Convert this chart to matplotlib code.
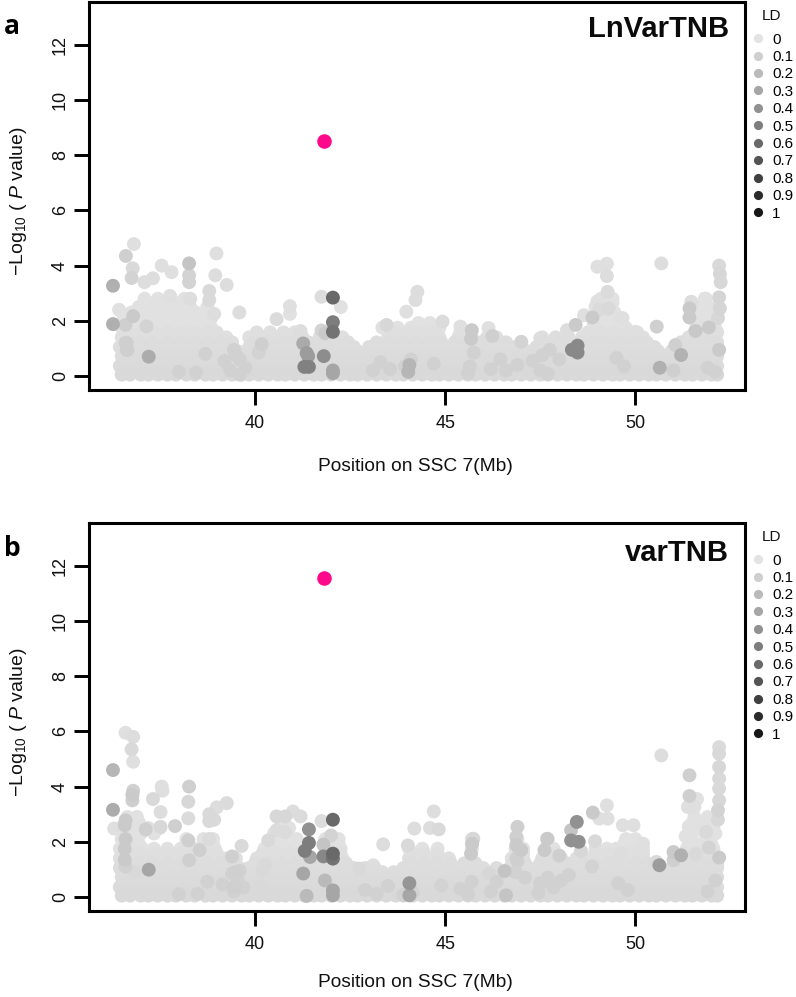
#!/usr/bin/env python3
"""Regional association plots for LnVarTNB and varTNB on SSC 7."""
import numpy as np
import matplotlib
matplotlib.use("Agg")
import matplotlib.pyplot as plt
from matplotlib.lines import Line2D

plt.rcParams["font.family"] = ["Liberation Sans", "DejaVu Sans"]
plt.rcParams["mathtext.fontset"] = "custom"
plt.rcParams["mathtext.rm"] = "Liberation Sans"
plt.rcParams["mathtext.it"] = "Liberation Sans:italic"

LD_LEVELS = [0, 0.1, 0.2, 0.3, 0.4, 0.5, 0.6, 0.7, 0.8, 0.9, 1]
LD_LABELS = ["0", "0.1", "0.2", "0.3", "0.4", "0.5", "0.6", "0.7", "0.8", "0.9", "1"]
X_TICKS = [40, 45, 50]
Y_TICKS = [0, 2, 4, 6, 8, 10, 12]

# lower rows of the cloud, the same in both panels
low_row_y = [0.05, 0.2, 0.36, 0.54, 0.72, 0.9]
low_row_ld = [0.05, 0.045, 0.04, 0.04, 0.035, 0.03]
low_row_x = [
    [36.5, 36.72, 37.0, 37.2, 37.45, 37.7, 37.92, 38.2, 38.42, 38.7, 38.9, 39.15, 39.4, 39.65, 39.85,
     40.1, 40.35, 40.6, 40.8, 41.05, 41.3, 41.55, 41.75, 42.0, 42.25, 42.5, 42.7, 42.95, 43.2, 43.45,
     43.7, 43.9, 44.15, 44.4, 44.65, 44.85, 45.1, 45.35, 45.6, 45.8, 46.05, 46.3, 46.55, 46.75, 47.0,
     47.25, 47.5, 47.7, 47.95, 48.2, 48.45, 48.65, 48.9, 49.15, 49.4, 49.6, 49.85, 50.1, 50.35, 50.55,
     50.8, 51.05, 51.3, 51.5, 51.75, 52.0, 52.15],
    [36.6, 36.9, 37.25, 37.55, 37.85, 38.1, 38.5, 38.8, 39.1, 39.45, 39.75, 40.05, 40.4, 40.7, 41.0,
     41.35, 41.65, 41.95, 42.3, 42.6, 42.9, 43.25, 43.55, 43.85, 44.2, 44.5, 44.8, 45.15, 45.45, 45.75,
     46.1, 46.4, 46.7, 47.05, 47.35, 47.65, 48.0, 48.3, 48.6, 48.95, 49.25, 49.55, 49.9, 50.2, 50.5,
     50.85, 51.15, 51.45, 51.8, 52.1],
    [36.45, 36.8, 37.1, 37.4, 37.75, 38.05, 38.35, 38.65, 39.0, 39.3, 39.6, 39.9, 40.2, 40.5, 40.85,
     41.15, 41.45, 41.8, 42.1, 42.4, 42.7, 43.05, 43.35, 43.65, 43.95, 44.3, 44.6, 44.9, 45.25, 45.55,
     45.85, 46.15, 46.5, 46.8, 47.1, 47.45, 47.75, 48.05, 48.35, 48.7, 49.0, 49.3, 49.65, 49.95, 50.25,
     50.6, 50.9, 51.2, 51.5, 51.85, 52.15],
    [36.65, 36.95, 37.3, 37.6, 37.95, 38.25, 38.55, 38.9, 39.2, 39.5, 39.85, 40.15, 40.45, 40.8, 41.1,
     41.4, 41.75, 42.05, 42.35, 42.7, 43.0, 43.3, 43.65, 43.95, 44.25, 44.6, 44.9, 45.2, 45.55, 45.85,
     46.15, 46.5, 46.8, 47.1, 47.45, 47.75, 48.05, 48.4, 48.7, 49.0, 49.35, 49.65, 49.95, 50.3, 50.6,
     50.9, 51.25, 51.55, 51.85, 52.1],
    [36.5, 36.85, 37.15, 37.5, 37.8, 38.1, 38.4, 38.75, 39.05, 39.35, 39.7, 40.0, 40.3, 40.65, 40.95,
     41.25, 41.6, 41.9, 42.2, 42.55, 42.85, 43.15, 43.5, 43.8, 44.1, 44.45, 44.75, 45.05, 45.4, 45.7,
     46.0, 46.35, 46.65, 46.95, 47.3, 47.6, 47.9, 48.25, 48.55, 48.85, 49.2, 49.5, 49.8, 50.15, 50.45,
     50.75, 51.1, 51.4, 51.7, 52.05, 52.15],
    [36.65, 37.0, 37.3, 37.65, 37.95, 38.25, 38.6, 38.9, 39.2, 39.55, 39.85, 40.15, 40.5, 40.8, 41.1,
     41.45, 41.75, 42.05, 42.4, 42.7, 43.0, 43.35, 43.65, 43.95, 44.3, 44.6, 44.9, 45.25, 45.55, 45.85,
     46.2, 46.5, 46.8, 47.15, 47.45, 47.75, 48.1, 48.4, 48.7, 49.05, 49.35, 49.65, 50.0, 50.3, 50.6,
     50.95, 51.25, 51.55, 51.9, 52.1],
]

# panel a
a_row_y = [1.05, 1.22, 1.4, 1.58, 1.75, 1.92, 2.1, 2.3, 2.5, 2.65, 2.8]
a_row_ld = [0.03, 0.03, 0.02, 0.02, 0.01, 0.01, 0.01, 0.01, 0.01, 0.01, 0.01]
a_row_x = [
    [36.45, 36.8, 37.15, 37.5, 37.85, 38.2, 38.55, 38.9, 39.25, 39.85, 40.15, 40.5, 40.85, 41.2, 41.55,
     41.9, 42.25, 42.6, 43.0, 43.35, 43.7, 44.05, 44.4, 44.75, 45.05, 45.4, 45.7, 46.1, 46.4, 46.75,
     47.0, 47.4, 47.7, 48.0, 48.3, 48.7, 49.05, 49.4, 49.75, 50.1, 50.5, 51.05, 51.35, 51.7, 52.1],
    [36.6, 36.95, 37.3, 37.7, 38.05, 38.4, 38.75, 39.1, 39.4, 40.0, 40.35, 40.7, 41.05, 41.4, 41.75,
     42.1, 42.45, 43.2, 43.55, 43.9, 44.25, 44.6, 44.9, 45.25, 45.6, 45.95, 46.25, 46.6, 47.55, 47.9,
     48.15, 48.55, 48.9, 49.25, 49.6, 49.95, 50.3, 51.2, 51.55, 51.9, 52.15],
    [36.5, 36.85, 37.2, 37.55, 37.9, 38.25, 38.6, 38.95, 39.25, 39.85, 40.2, 40.55, 40.95, 41.25, 41.7,
     42.3, 43.5, 43.85, 44.2, 44.55, 44.85, 45.35, 45.7, 46.1, 46.35, 47.55, 48.25, 48.6, 48.95, 49.3,
     49.65, 50.0, 50.2, 51.4, 51.7, 52.05],
    [36.65, 37.0, 37.35, 37.7, 38.05, 38.4, 38.75, 39.0, 40.05, 40.4, 40.75, 41.05, 43.7, 44.0, 44.35,
     44.7, 45.4, 48.75, 49.1, 49.45, 49.8, 50.05, 51.55, 51.85, 52.15],
    [36.5, 36.85, 37.2, 37.55, 37.9, 38.25, 38.6, 38.85, 43.35, 43.75, 44.1, 44.5, 44.85, 49.05, 49.4,
     49.75, 51.6, 51.85, 52.1],
    [36.7, 37.05, 37.4, 37.75, 38.1, 38.45, 38.75, 44.3, 44.6, 48.9, 49.2, 49.5, 51.7, 52.0],
    [36.55, 36.9, 37.25, 37.6, 37.95, 38.3, 38.55, 38.85, 49.0, 49.3, 49.6, 51.5, 51.85, 52.1],
    [36.75, 37.1, 37.45, 37.8, 38.15, 38.45, 38.8, 49.15, 49.45, 51.65, 51.95],
    [36.95, 37.3, 37.65, 38.0, 38.3, 38.75, 48.95, 49.3, 51.55, 51.85, 52.15],
    [37.15, 37.5, 37.85, 38.15, 49.15, 49.4, 51.85],
    [37.1, 37.45, 37.8, 38.15, 49.1, 49.4, 51.85],
]
a_mid_x = [38.0, 38.45, 38.7, 39.2, 39.45, 39.6, 39.75, 39.35, 39.6, 39.5, 36.6, 36.65, 43.3, 43.55, 43.95,
           44.1, 43.1, 44.7, 45.65, 45.75, 45.6, 46.2, 46.45, 46.6, 46.9, 47.3, 47.55, 47.75, 48.0, 47.5,
           47.7, 49.5, 49.7, 51.9, 52.1]
a_mid_y = [0.15, 0.12, 0.8, 0.55, 0.95, 0.6, 0.3, 0.2, 0.05, 0.75, 1.2, 0.95, 0.5, 0.25, 0.35, 0.6, 0.2, 0.45,
           0.35, 0.85, 0.1, 0.25, 0.6, 0.2, 0.4, 0.55, 0.75, 0.95, 0.6, 0.2, 0.08, 0.65, 0.35, 0.3, 0.15]
a_top_x = [36.82, 36.61, 36.79, 36.76, 36.27, 37.55, 37.81, 37.32, 37.1, 38.27, 38.27, 38.27, 38.99, 38.96,
           39.26, 38.8, 38.8, 38.93, 39.59, 38.3, 37.77, 36.8, 36.27, 36.6, 37.15, 37.21, 36.63, 36.63, 36.43,
           41.75, 42.05, 42.26, 42.05, 42.05, 41.75, 41.85, 41.81, 41.27, 41.36, 41.4, 41.3, 41.42, 42.05,
           42.05, 40.92, 40.92, 40.57, 40.18, 40.1, 41.2, 43.46, 44.27, 44.22, 43.98, 44.93, 45.4, 45.7,
           45.68, 46.14, 46.24, 47.0, 47.5, 47.9, 48.2, 48.43, 48.48, 48.48, 48.33, 48.65, 48.87, 49.0, 49.25,
           49.25, 49.27, 49.0, 49.3, 49.05, 49.66, 50.0, 50.2, 50.68, 50.56, 51.05, 51.2, 50.64, 51.0, 51.47,
           51.42, 51.42, 51.58, 51.82, 51.93, 52.2, 52.22, 52.24, 52.2, 52.22, 52.17, 52.2, 44.06, 44.03]
a_top_y = [4.78, 4.35, 3.9, 3.55, 3.27, 4.0, 3.76, 3.54, 3.4, 4.08, 3.65, 3.4, 4.44, 3.65, 3.3, 3.08, 2.75,
           2.25, 2.3, 2.8, 2.9, 2.17, 1.88, 1.85, 1.8, 0.7, 1.2, 0.95, 2.4, 2.87, 2.84, 2.5, 1.95, 1.6, 1.65,
           1.55, 0.72, 1.18, 0.83, 0.72, 0.33, 0.33, 0.2, 0.1, 2.53, 2.25, 2.06, 1.15, 0.85, 1.63, 1.85, 3.05,
           2.75, 2.33, 1.97, 1.79, 1.66, 1.35, 1.74, 1.45, 1.24, 1.37, 1.4, 1.66, 1.85, 1.1, 0.85, 0.95, 2.2,
           2.12, 3.96, 4.07, 3.62, 3.05, 2.7, 2.45, 2.4, 2.1, 1.6, 1.3, 4.08, 1.79, 1.12, 0.76, 0.3, 0.2,
           2.69, 2.45, 2.12, 1.63, 2.8, 1.76, 4.0, 3.7, 3.4, 2.85, 2.45, 2.1, 0.95, 0.4, 0.15]
a_top_ld = [0.02, 0.1, 0.05, 0.08, 0.25, 0.02, 0.02, 0.03, 0.03, 0.15, 0.08, 0.08, 0.02, 0.03, 0.03, 0.05, 0.05,
            0.03, 0.03, 0.03, 0.02, 0.12, 0.25, 0.1, 0.08, 0.27, 0.1, 0.1, 0.01, 0.03, 0.6, 0.01, 0.5, 0.55, 0.08,
            0.12, 0.42, 0.28, 0.35, 0.35, 0.48, 0.48, 0.3, 0.3, 0.02, 0.01, 0.04, 0.1, 0.08, 0.03, 0.06, 0.03,
            0.03, 0.02, 0.04, 0.02, 0.12, 0.12, 0.02, 0.1, 0.08, 0.03, 0.03, 0.03, 0.12, 0.44, 0.44, 0.44, 0.02,
            0.12, 0.02, 0.02, 0.03, 0.04, 0.02, 0.05, 0.04, 0.02, 0.02, 0.02, 0.03, 0.1, 0.1, 0.24, 0.25, 0.1,
            0.03, 0.12, 0.12, 0.13, 0.01, 0.12, 0.05, 0.06, 0.06, 0.07, 0.07, 0.06, 0.12, 0.22, 0.22]
a_lead_x = [41.81]
a_lead_y = [8.5]

# panel b
b_row_y = [1.05, 1.22, 1.4, 1.58, 1.75, 1.92, 2.1, 2.3, 2.5, 2.7, 2.9]
b_row_ld = [0.03, 0.03, 0.02, 0.02, 0.01, 0.01, 0.01, 0.01, 0.01, 0.01, 0.01]
b_row_x = [
    [36.45, 36.8, 37.15, 37.5, 37.85, 38.2, 38.55, 38.9, 39.25, 39.6, 39.85, 40.15, 40.5, 40.85, 41.2, 41.55,
     41.9, 42.25, 42.6, 42.9, 43.15, 43.9, 44.25, 44.6, 44.95, 45.25, 45.65, 46.0, 46.35, 46.7, 47.05,
     47.4, 47.75, 48.1, 48.45, 48.8, 49.15, 49.5, 49.85, 50.2, 50.55, 50.95, 51.3, 51.65, 52.0, 52.15],
    [36.6, 36.95, 37.3, 37.7, 38.05, 38.4, 38.75, 39.1, 39.45, 40.0, 40.35, 40.7, 41.05, 41.4, 41.75, 42.1,
     42.4, 44.1, 44.45, 44.8, 45.15, 45.5, 45.8, 46.8, 47.1, 47.5, 47.85, 48.2, 48.6, 48.95, 49.3, 49.65,
     50.0, 50.3, 51.15, 51.5, 51.85, 52.15],
    [36.45, 36.8, 37.15, 37.5, 37.85, 38.2, 38.55, 38.9, 39.25, 39.5, 40.05, 40.4, 40.75, 41.1, 41.45,
     41.95, 42.3, 44.05, 44.4, 44.75, 45.1, 46.75, 47.05, 47.55, 47.85, 48.05, 48.45, 48.8, 49.15, 49.5,
     49.85, 50.2, 51.25, 51.6, 51.95, 52.15],
    [36.6, 36.95, 37.35, 37.7, 38.05, 38.4, 38.75, 39.0, 40.2, 40.55, 40.9, 41.2, 41.9, 42.25, 44.1, 44.45,
     44.8, 46.85, 47.05, 47.65, 47.9, 48.95, 49.3, 49.65, 49.95, 50.2, 51.3, 51.65, 52.0],
    [36.45, 36.8, 37.05, 37.35, 37.7, 38.05, 38.4, 38.75, 38.95, 40.25, 40.6, 40.95, 41.25, 41.85, 42.25,
     44.05, 44.4, 44.8, 45.7, 46.85, 47.05, 47.65, 47.85, 48.95, 49.25, 49.5, 49.95, 50.2, 51.35, 51.7,
     52.05],
    [36.6, 36.95, 38.25, 38.65, 38.9, 40.35, 40.7, 41.05, 41.85, 42.2, 45.7, 46.9, 47.7, 49.7, 50.0, 51.4,
     51.75, 52.0],
    [36.5, 36.9, 38.2, 38.65, 38.9, 40.45, 40.8, 41.1, 41.85, 42.2, 45.7, 46.9, 47.7, 49.75, 50.0, 51.45,
     51.85],
    [36.65, 37.0, 37.35, 40.5, 40.85, 51.5, 51.85, 52.1],
    [36.45, 36.85, 37.2, 37.5, 40.65, 40.9, 51.45, 51.8, 52.05],
    [36.65, 36.95, 51.5, 51.85],
    [36.65, 36.9, 51.55, 51.9],
]
b_mid_x = [38.0, 38.5, 38.75, 39.15, 39.4, 39.55, 39.7, 39.45, 39.6, 42.9, 43.2, 43.5, 43.9, 44.15, 45.4,
           45.7, 45.6, 46.2, 46.35, 46.85, 47.1, 47.5, 47.7, 47.85, 48.05, 48.25, 47.45, 49.55, 49.8, 51.9,
           52.1, 36.6, 46.9, 46.95]
b_mid_y = [0.1, 0.12, 0.55, 0.45, 0.85, 0.6, 0.35, 0.2, 0.95, 0.25, 0.12, 0.4, 0.08, 0.15, 0.3, 0.55, 0.1,
           0.2, 0.55, 0.9, 0.7, 0.5, 0.7, 0.35, 0.6, 0.8, 0.15, 0.5, 0.25, 0.2, 0.6, 1.1, 1.3, 1.7]
b_top_x = [36.6, 36.8, 36.76, 36.8, 36.27, 36.27, 36.8, 36.78, 36.78, 37.55, 37.57, 37.32, 38.27, 38.25, 38.25,
           39.26, 39.0, 38.8, 38.8, 38.93, 37.52, 37.52, 37.9, 37.13, 36.6, 36.58, 36.6, 36.58, 36.58, 36.3,
           37.21, 36.85, 38.25, 38.27, 38.55, 38.8, 39.65, 39.4, 39.5, 39.45, 40.57, 40.8, 41.0, 41.2, 40.57,
           40.8, 40.35, 40.26, 40.2, 40.15, 41.42, 41.42, 41.31, 41.45, 41.27, 41.36, 41.75, 42.05, 42.0, 41.8,
           41.8, 42.05, 42.05, 41.84, 42.05, 42.05, 42.74, 43.11, 43.37, 44.7, 44.19, 44.83, 44.6, 44.02, 45.74,
           45.71, 45.68, 44.9, 44.06, 44.06, 46.56, 46.6, 46.15, 46.9, 46.87, 46.87, 47.0, 46.87, 47.68, 47.61,
           48.0, 48.46, 48.31, 48.31, 48.51, 48.57, 48.88, 49.25, 49.05, 49.27, 48.94, 48.86, 49.67, 49.95, 50.2,
           49.62, 50.68, 50.63, 50.55, 51.0, 51.2, 51.0, 51.42, 51.42, 51.38, 51.55, 51.62, 51.86, 51.93, 51.58,
           52.2, 52.2, 52.2, 52.2, 52.2, 52.2, 52.17, 52.17, 52.2, 51.4, 51.32]
b_top_y = [5.95, 5.8, 5.35, 4.9, 4.6, 3.16, 3.85, 3.7, 3.5, 4.0, 3.85, 3.55, 4.0, 3.45, 2.85, 3.4, 3.25, 3.0,
           2.75, 2.8, 3.08, 2.54, 2.57, 2.45, 2.78, 2.6, 2.1, 1.75, 1.35, 2.48, 0.99, 0.9, 2.05, 1.33, 1.7,
           2.1, 1.85, 1.47, 0.9, 0.36, 2.92, 2.92, 3.1, 2.92, 2.42, 2.35, 2.05, 1.15, 0.97, 0.42, 2.45, 1.96,
           1.67, 1.45, 0.85, 0.04, 2.75, 2.8, 2.23, 1.9, 1.47, 1.57, 1.39, 0.6, 0.24, 0.06, 1.03, 1.15, 1.91,
           3.1, 2.48, 2.45, 2.5, 1.87, 2.11, 1.93, 1.57, 0.42, 0.5, 0.06, 0.94, 0.06, 0.85, 2.54, 2.18, 1.88,
           1.7, 1.39, 2.11, 1.7, 1.5, 2.72, 2.42, 2.05, 2.0, 1.67, 3.06, 3.32, 2.84, 2.84, 2.02, 1.11, 2.6, 2.6,
           1.93, 1.57, 5.13, 1.15, 1.27, 1.63, 1.51, 1.33, 4.41, 3.66, 3.26, 3.26, 3.55, 2.36, 1.79, 1.55, 5.43,
           5.19, 4.71, 4.29, 3.93, 3.5, 3.14, 2.8, 1.43, 2.55, 2.2]
b_top_ld = [0.02, 0.03, 0.05, 0.02, 0.22, 0.27, 0.09, 0.12, 0.1, 0.02, 0.02, 0.05, 0.1, 0.06, 0.04, 0.04, 0.03,
            0.05, 0.05, 0.05, 0.03, 0.06, 0.1, 0.1, 0.12, 0.12, 0.12, 0.12, 0.12, 0.02, 0.3, 0.05, 0.1, 0.1, 0.1,
            0.04, 0.05, 0.1, 0.1, 0.1, 0.06, 0.06, 0.03, 0.04, 0.04, 0.04, 0.05, 0.05, 0.05, 0.05, 0.4, 0.5, 0.5,
            0.3, 0.3, 0.2, 0.03, 0.6, 0.08, 0.15, 0.45, 0.6, 0.55, 0.2, 0.3, 0.3, 0.05, 0.02, 0.03, 0.03, 0.03,
            0.05, 0.03, 0.05, 0.06, 0.12, 0.12, 0.08, 0.38, 0.3, 0.15, 0.15, 0.06, 0.1, 0.1, 0.12, 0.12, 0.1, 0.12,
            0.12, 0.1, 0.4, 0.15, 0.4, 0.4, 0.06, 0.12, 0.02, 0.02, 0.02, 0.05, 0.08, 0.02, 0.02, 0.02, 0.03, 0.03,
            0.35, 0.05, 0.12, 0.25, 0.1, 0.1, 0.1, 0.02, 0.02, 0.01, 0.05, 0.08, 0.05, 0.04, 0.05, 0.06, 0.05, 0.05,
            0.06, 0.08, 0.06, 0.12, 0.01, 0.01]
b_lead_x = [41.81]
b_lead_y = [11.55]


def ld_color(ld):
    return str(round(0.89 - 0.80 * ld, 3))


def draw_panel(ax, row_y, row_ld, row_x, mid_x, mid_y, top_x, top_y, top_ld, lead_x, lead_y):
    xs, ys, lds = [], [], []
    for y, ld, row in zip(low_row_y + row_y, low_row_ld + row_ld, low_row_x + row_x):
        xs += row
        ys += [y] * len(row)
        lds += [ld] * len(row)
    xs += mid_x + top_x
    ys += mid_y + top_y
    lds += [0.09] * len(mid_x) + top_ld

    # darker points go on top, as in the original plot
    order = np.argsort(lds, kind="stable")
    colors = [ld_color(lds[i]) for i in order]
    ax.scatter(np.array(xs)[order], np.array(ys)[order], c=colors, s=100, linewidths=0, zorder=2)
    ax.scatter(lead_x, lead_y, c="#ff0a8c", s=110, linewidths=0, zorder=3)

    ax.set_xlim(35.64, 52.88)
    ax.set_ylim(-0.507, 13.55)
    ax.set_xticks(X_TICKS)
    ax.set_yticks(Y_TICKS)
    ax.tick_params(length=10.5, width=2.1, labelsize=13, color="black", labelcolor="#111111")
    ax.tick_params(axis="x", pad=7.5)
    ax.tick_params(axis="y", pad=4)
    for lab in ax.get_yticklabels():
        lab.set_rotation(90)
        lab.set_va("center")
    for sp in ax.spines.values():
        sp.set_linewidth(2.2)

    handles = [Line2D([], [], ls="", marker="o", ms=6.6, mew=0, color=ld_color(v)) for v in LD_LEVELS]
    leg = ax.legend(handles, LD_LABELS, title="LD", loc="upper left", bbox_to_anchor=(1.0, 0.996),
                    frameon=False, fontsize=11, title_fontsize=11, labelspacing=0.223,
                    handlelength=1.0, handletextpad=0.43, borderpad=0.35, borderaxespad=0)
    leg.get_title().set_color("#111111")
    leg._legend_box.sep = 7


fig = plt.figure(figsize=(7.96, 9.97), dpi=100)
W, H = 796.0, 997.0
ax_a = fig.add_axes([89 / W, 1 - 390 / H, 656 / W, 388 / H])
ax_b = fig.add_axes([89 / W, 1 - 911 / H, 656 / W, 388 / H])

draw_panel(ax_a, a_row_y, a_row_ld, a_row_x, a_mid_x, a_mid_y, a_top_x, a_top_y, a_top_ld, a_lead_x, a_lead_y)
draw_panel(ax_b, b_row_y, b_row_ld, b_row_x, b_mid_x, b_mid_y, b_top_x, b_top_y, b_top_ld, b_lead_x, b_lead_y)

ylab = r"$\mathrm{-Log_{10}\ (\ }\mathit{P}\mathrm{\ value)}$"
for ax in (ax_a, ax_b):
    ax.set_xlabel("Position on SSC 7(Mb)", fontsize=13.8, color="#111111")
    ax.set_ylabel(ylab, fontsize=14, color="#111111")
    ax.yaxis.set_label_coords(-0.092, 0.487)
ax_a.xaxis.set_label_coords(0.497, -0.175)
ax_b.xaxis.set_label_coords(0.497, -0.162)

ax_a.text(729 / W, 1 - 29 / H, "LnVarTNB", transform=fig.transFigure, ha="right", va="center",
          fontsize=21, fontweight="bold", color="#0a0a0a")
ax_b.text(729 / W, 1 - 553 / H, "varTNB", transform=fig.transFigure, ha="right", va="center",
          fontsize=21, fontweight="bold", color="#0a0a0a")
fig.text(4 / W, 1 - 27 / H, "a", family="Open Sans", fontweight="bold", fontsize=19, va="center")
fig.text(4 / W, 1 - 548 / H, "b", family="Open Sans", fontweight="bold", fontsize=19, va="center")

fig.savefig("out.png", dpi=100)
